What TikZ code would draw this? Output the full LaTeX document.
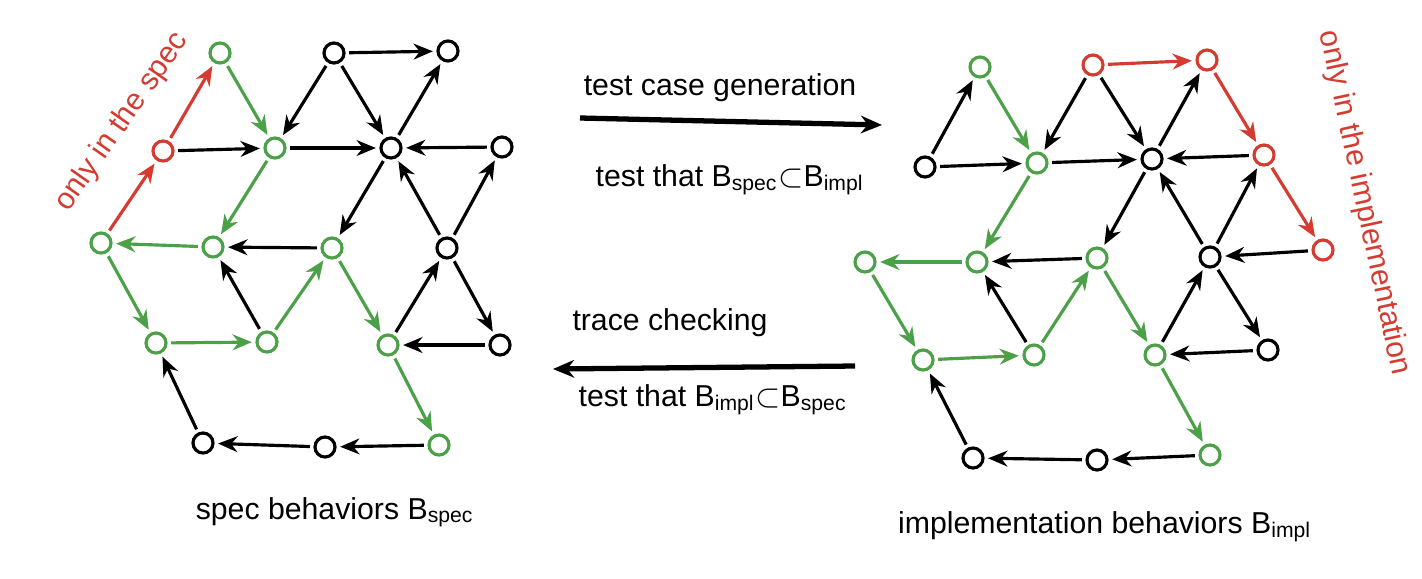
\documentclass[tikz,border=0pt]{standalone}
\usepackage{fontspec}
\setmainfont{Liberation Sans}
\usetikzlibrary{arrows.meta}
\definecolor{sgreen}{RGB}{76,160,72}
\definecolor{sred}{RGB}{212,60,50}
\tikzset{
  vtx/.style={circle,draw=black,line width=0.9pt,minimum size=0.2cm,inner sep=0pt,fill=white},
  gvtx/.style={vtx,draw=sgreen},
  rvtx/.style={vtx,draw=sred},
  e/.style={line width=0.9pt,-{Stealth[length=5.5pt,width=4.5pt]},shorten >=1pt,shorten <=1pt},
  ge/.style={e,sgreen},
  re/.style={e,sred},
  lbl/.style={font=\fontsize{8.6}{10}\selectfont}
}
\begin{document}
\begin{tikzpicture}[x=0.01cm,y=-0.01cm]
\useasboundingbox (0,0) rectangle (1422,578);
% spec graph
\node[gvtx] (s1) at (220,53) {};
\node[vtx] (t1) at (334,53) {};
\node[vtx] (t2) at (448,51) {};
\node[rvtx] (r) at (163,151) {};
\node[gvtx] (g2) at (275,148) {};
\node[vtx] (c) at (391,148) {};
\node[vtx] (br) at (502,147) {};
\node[gvtx] (g3) at (101,243) {};
\node[gvtx] (g4) at (213,247) {};
\node[gvtx] (g5) at (332,248) {};
\node[vtx] (b6) at (447,248) {};
\node[gvtx] (g7) at (156,343) {};
\node[gvtx] (g8) at (267,342) {};
\node[gvtx] (g9) at (388,345) {};
\node[vtx] (b10) at (500,345) {};
\node[vtx] (b11) at (203,443) {};
\node[vtx] (b12) at (325,447) {};
\node[gvtx] (g13) at (439,445) {};
\draw[re] (g3)--(r); \draw[re] (r)--(s1);
\draw[ge] (s1)--(g2); \draw[ge] (g2)--(g4); \draw[ge] (g4)--(g3); \draw[ge] (g3)--(g7);
\draw[ge] (g7)--(g8); \draw[ge] (g8)--(g5); \draw[ge] (g5)--(g9); \draw[ge] (g9)--(g13);
\draw[e] (r)--(g2); \draw[e] (t1)--(t2); \draw[e] (t1)--(g2); \draw[e] (t1)--(c);
\draw[e] (g2)--(c); \draw[e] (c)--(t2); \draw[e] (br)--(c); \draw[e] (b6)--(br);
\draw[e] (b6)--(c); \draw[e] (c)--(g5); \draw[e] (g5)--(g4); \draw[e] (g8)--(g4);
\draw[e] (b6)--(b10); \draw[e] (g9)--(b6); \draw[e] (b10)--(g9);
\draw[e] (g13)--(b12); \draw[e] (b12)--(b11); \draw[e] (b11)--(g7);
\node[lbl,text=sred,rotate=55] (onlyspec) at (122,122) {only in the spec};
\node[lbl] (speclbl) at (335,512) {spec behaviors B\textsubscript{spec}};
% impl graph
\node[gvtx] (G1) at (980,67) {};
\node[rvtx] (R1) at (1093,65) {};
\node[rvtx] (R2) at (1207,60) {};
\node[vtx] (B0) at (925,167) {};
\node[gvtx] (G2) at (1037,163) {};
\node[vtx] (C) at (1152,159) {};
\node[rvtx] (R3) at (1264,155) {};
\node[gvtx] (G3) at (865,262) {};
\node[gvtx] (G4) at (977,262) {};
\node[gvtx] (G5) at (1097,258) {};
\node[vtx] (B6) at (1210,257) {};
\node[rvtx] (R4) at (1323,250) {};
\node[gvtx] (G7) at (923,360) {};
\node[gvtx] (G8) at (1034,355) {};
\node[gvtx] (G9) at (1155,355) {};
\node[vtx] (B10) at (1268,350) {};
\node[vtx] (B11) at (973,458) {};
\node[vtx] (B12) at (1097,460) {};
\node[gvtx] (G13) at (1210,455) {};
\draw[re] (R1)--(R2); \draw[re] (R2)--(R3); \draw[re] (R3)--(R4);
\draw[ge] (G1)--(G2); \draw[ge] (G2)--(G4); \draw[ge] (G4)--(G3); \draw[ge] (G3)--(G7);
\draw[ge] (G7)--(G8); \draw[ge] (G8)--(G5); \draw[ge] (G5)--(G9); \draw[ge] (G9)--(G13);
\draw[e] (B0)--(G1); \draw[e] (B0)--(G2); \draw[e] (R1)--(G2); \draw[e] (R1)--(C);
\draw[e] (G2)--(C); \draw[e] (C)--(R2); \draw[e] (R3)--(C); \draw[e] (B6)--(R3);
\draw[e] (B6)--(C); \draw[e] (C)--(G5); \draw[e] (G5)--(G4); \draw[e] (G8)--(G4);
\draw[e] (R4)--(B6); \draw[e] (B6)--(B10); \draw[e] (G9)--(B6); \draw[e] (B10)--(G9);
\draw[e] (G13)--(B12); \draw[e] (B12)--(B11); \draw[e] (B11)--(G7);
\node[lbl,text=sred,rotate=-78] (onlyimpl) at (1364,203) {only in the implementation};
\node[lbl] (impllbl) at (1105,527) {implementation behaviors B\textsubscript{impl}};
% middle
\node[lbl] (gen) at (720,88) {test case generation};
\node[lbl] (genq) at (730,180) {test that B\textsubscript{spec}$\subset$B\textsubscript{impl}};
\coordinate (ga) at (580,118); \coordinate (gb) at (882,125);
\draw[line width=1.5pt,-{Stealth[length=6pt,width=5pt]}] (ga)--(gb);
\node[lbl] (chk) at (670,323) {trace checking};
\node[lbl] (chkq) at (713,400) {test that B\textsubscript{impl}$\subset$B\textsubscript{spec}};
\coordinate (ca) at (855,366); \coordinate (cb) at (553,369);
\draw[line width=1.5pt,-{Stealth[length=6pt,width=5pt]}] (ca)--(cb);
\end{tikzpicture}
\end{document}
